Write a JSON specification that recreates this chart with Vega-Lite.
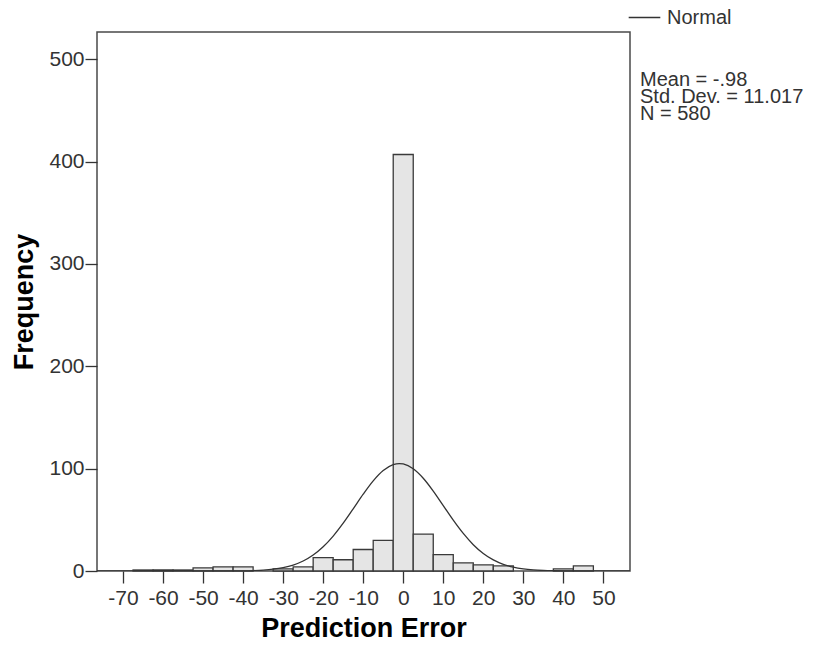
{
  "$schema": "https://vega.github.io/schema/vega-lite/v6.json",
  "width": 533,
  "height": 539,
  "autosize": "none",
  "padding": {"left": 97, "top": 32, "right": 188, "bottom": 79},
  "background": "white",
  "config": {
    "font": "Liberation Sans",
    "view": {"stroke": "#4a4a4a", "strokeWidth": 1.5}
  },
  "title": {
    "text": ["Mean = -.98", "Std. Dev. = 11.017", "N = 580"],
    "anchor": "end",
    "align": "left",
    "frame": "group",
    "baseline": "top",
    "dx": 10,
    "dy": 127,
    "fontSize": 20,
    "fontWeight": "normal",
    "lineHeight": 17,
    "color": "#333333",
    "font": "Liberation Sans"
  },
  "datasets": {
    "bins": [
      {"start": -67.5, "end": -62.5, "count": 1},
      {"start": -62.5, "end": -57.5, "count": 1},
      {"start": -57.5, "end": -52.5, "count": 1},
      {"start": -52.5, "end": -47.5, "count": 3},
      {"start": -47.5, "end": -42.5, "count": 4},
      {"start": -42.5, "end": -37.5, "count": 4},
      {"start": -32.5, "end": -27.5, "count": 2},
      {"start": -27.5, "end": -22.5, "count": 4},
      {"start": -22.5, "end": -17.5, "count": 13},
      {"start": -17.5, "end": -12.5, "count": 11},
      {"start": -12.5, "end": -7.5, "count": 21},
      {"start": -7.5, "end": -2.5, "count": 30},
      {"start": -2.5, "end": 2.5, "count": 407},
      {"start": 2.5, "end": 7.5, "count": 36},
      {"start": 7.5, "end": 12.5, "count": 16},
      {"start": 12.5, "end": 17.5, "count": 8},
      {"start": 17.5, "end": 22.5, "count": 6},
      {"start": 22.5, "end": 27.5, "count": 5},
      {"start": 37.5, "end": 42.5, "count": 2},
      {"start": 42.5, "end": 47.5, "count": 5}
    ],
    "curve": [
      {"x": -76.5, "y": 0, "series": "Normal"},
      {"x": -55, "y": 0, "series": "Normal"},
      {"x": -50, "y": 0.005, "series": "Normal"},
      {"x": -45, "y": 0.04, "series": "Normal"},
      {"x": -40, "y": 0.2, "series": "Normal"},
      {"x": -37.5, "y": 0.43, "series": "Normal"},
      {"x": -35, "y": 0.89, "series": "Normal"},
      {"x": -32.5, "y": 1.75, "series": "Normal"},
      {"x": -30, "y": 3.27, "series": "Normal"},
      {"x": -27.5, "y": 5.79, "series": "Normal"},
      {"x": -25, "y": 9.75, "series": "Normal"},
      {"x": -22.5, "y": 15.58, "series": "Normal"},
      {"x": -20, "y": 23.66, "series": "Normal"},
      {"x": -17.5, "y": 34.12, "series": "Normal"},
      {"x": -15, "y": 46.72, "series": "Normal"},
      {"x": -12.5, "y": 60.78, "series": "Normal"},
      {"x": -10, "y": 75.1, "series": "Normal"},
      {"x": -7.5, "y": 88.14, "series": "Normal"},
      {"x": -5, "y": 98.24, "series": "Normal"},
      {"x": -2.5, "y": 104.0, "series": "Normal"},
      {"x": -1, "y": 105.0, "series": "Normal"},
      {"x": 0, "y": 104.6, "series": "Normal"},
      {"x": 2.5, "y": 99.89, "series": "Normal"},
      {"x": 5, "y": 90.62, "series": "Normal"},
      {"x": 7.5, "y": 78.08, "series": "Normal"},
      {"x": 10, "y": 63.9, "series": "Normal"},
      {"x": 12.5, "y": 49.68, "series": "Normal"},
      {"x": 15, "y": 36.68, "series": "Normal"},
      {"x": 17.5, "y": 25.72, "series": "Normal"},
      {"x": 20, "y": 17.13, "series": "Normal"},
      {"x": 22.5, "y": 10.84, "series": "Normal"},
      {"x": 25, "y": 6.51, "series": "Normal"},
      {"x": 27.5, "y": 3.72, "series": "Normal"},
      {"x": 30, "y": 2.02, "series": "Normal"},
      {"x": 32.5, "y": 1.04, "series": "Normal"},
      {"x": 35, "y": 0.51, "series": "Normal"},
      {"x": 37.5, "y": 0.24, "series": "Normal"},
      {"x": 40, "y": 0.1, "series": "Normal"},
      {"x": 45, "y": 0.02, "series": "Normal"},
      {"x": 56.65, "y": 0, "series": "Normal"}
    ]
  },
  "layer": [
    {
      "data": {"name": "bins"},
      "mark": {"type": "rect", "fill": "#e5e5e5", "stroke": "#3a3a3a", "strokeWidth": 1.3},
      "encoding": {
        "x": {
          "field": "start",
          "type": "quantitative",
          "scale": {"domain": [-76.5, 56.65], "nice": false, "zero": false},
          "axis": {
            "values": [-70, -60, -50, -40, -30, -20, -10, 0, 10, 20, 30, 40, 50],
            "labelExpr": "toString(datum.value)",
            "domain": false,
            "grid": false,
            "tickSize": 12,
            "tickColor": "#333333",
            "tickWidth": 1.3,
            "labelFontSize": 21,
            "labelColor": "#333333",
            "labelPadding": 4,
            "labelFlush": false,
            "labelOverlap": false,
            "title": "Prediction Error",
            "titleFontSize": 27,
            "titleFontWeight": "bold",
            "titleColor": "#000000",
            "titlePadding": 7
          }
        },
        "x2": {"field": "end"},
        "y": {
          "field": "count",
          "type": "quantitative",
          "scale": {"domain": [0, 526.7], "nice": false},
          "axis": {
            "values": [0, 100, 200, 300, 400, 500],
            "domain": false,
            "grid": false,
            "tickSize": 12,
            "tickColor": "#333333",
            "tickWidth": 1.3,
            "labelFontSize": 21,
            "labelColor": "#333333",
            "labelPadding": 1,
            "title": "Frequency",
            "titleFontSize": 27,
            "titleFontWeight": "bold",
            "titleColor": "#000000",
            "titlePadding": 10
          }
        },
        "y2": {"datum": 0}
      }
    },
    {
      "data": {"name": "curve"},
      "mark": {"type": "line", "interpolate": "monotone", "strokeWidth": 1.3, "clip": true},
      "encoding": {
        "x": {"field": "x", "type": "quantitative"},
        "y": {"field": "y", "type": "quantitative"},
        "stroke": {
          "field": "series",
          "type": "nominal",
          "scale": {"range": ["#333333"]},
          "legend": {
            "orient": "none",
            "legendX": 531,
            "legendY": -31,
            "title": null,
            "padding": 0,
            "symbolType": "stroke",
            "symbolSize": 1000,
            "symbolStrokeWidth": 1.3,
            "labelFontSize": 20,
            "labelColor": "#333333",
            "labelOffset": 6,
            "labelFont": "Liberation Sans"
          }
        }
      }
    }
  ]
}
